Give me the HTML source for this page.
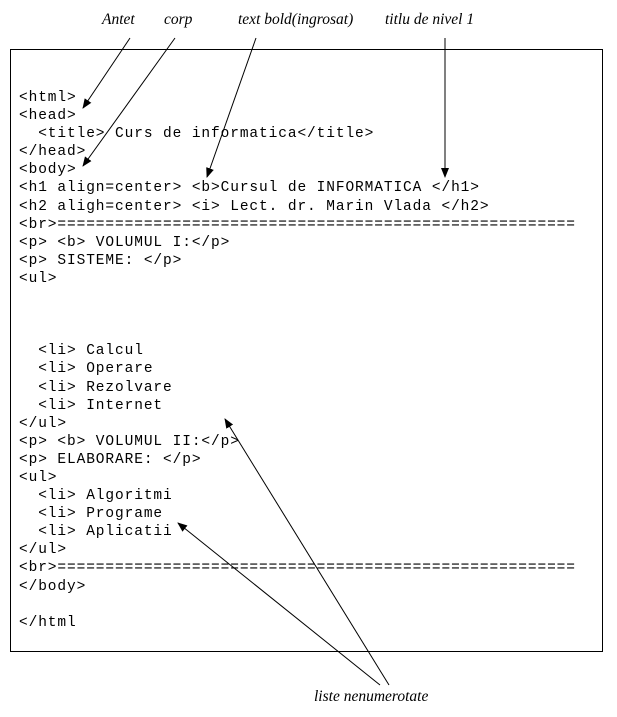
<!DOCTYPE html>
<html><head><style>
body{margin:0;width:617px;height:717px;background:#fff;position:relative;overflow:hidden}
pre{position:absolute;left:19px;top:89px;margin:0;font-family:"Liberation Mono",monospace;font-size:14.5px;letter-spacing:0.9px;line-height:18.1px;color:#000}
.l{position:absolute;font-family:"Liberation Serif",serif;font-style:italic;font-size:15.5px;white-space:nowrap}
svg{position:absolute;left:0;top:0}
</style></head><body>
<div style="position:absolute;left:10px;top:49px;width:591px;height:601px;border:1px solid #000"></div>
<pre>&lt;html&gt;
&lt;head&gt;
  &lt;title&gt; Curs de informatica&lt;/title&gt;
&lt;/head&gt;
&lt;body&gt;
&lt;h1 align=center&gt; &lt;b&gt;Cursul de INFORMATICA &lt;/h1&gt;
&lt;h2 aligh=center&gt; &lt;i&gt; Lect. dr. Marin Vlada &lt;/h2&gt;
&lt;br&gt;======================================================
&lt;p&gt; &lt;b&gt; VOLUMUL I:&lt;/p&gt;
&lt;p&gt; SISTEME: &lt;/p&gt;
&lt;ul&gt;



  &lt;li&gt; Calcul
  &lt;li&gt; Operare
  &lt;li&gt; Rezolvare
  &lt;li&gt; Internet
&lt;/ul&gt;
&lt;p&gt; &lt;b&gt; VOLUMUL II:&lt;/p&gt;
&lt;p&gt; ELABORARE: &lt;/p&gt;
&lt;ul&gt;
  &lt;li&gt; Algoritmi
  &lt;li&gt; Programe
  &lt;li&gt; Aplicatii
&lt;/ul&gt;
&lt;br&gt;======================================================
&lt;/body&gt;

&lt;/html</pre>
<div class="l" style="left:102px;top:11px">Antet</div>
<div class="l" style="left:164px;top:11px">corp</div>
<div class="l" style="left:238px;top:11px">text bold(ingrosat)</div>
<div class="l" style="left:385px;top:11px">titlu de nivel 1</div>
<div class="l" style="left:314px;top:688px">liste nenumerotate</div>
<svg width="617" height="717">
<defs><marker id="a" markerWidth="10" markerHeight="8" refX="9" refY="4" orient="auto" markerUnits="userSpaceOnUse"><path d="M0,0L10,4L0,8z"/></marker></defs>
<g stroke="#000" stroke-width="1" fill="none" marker-end="url(#a)">
<line x1="130" y1="38" x2="83" y2="108"/>
<line x1="175" y1="38" x2="83" y2="166"/>
<line x1="256" y1="38" x2="207" y2="177"/>
<line x1="445" y1="38" x2="445" y2="177"/>
<line x1="389" y1="685" x2="225" y2="419"/>
<line x1="380" y1="685" x2="178" y2="523"/>
</g></svg>
</body></html>
